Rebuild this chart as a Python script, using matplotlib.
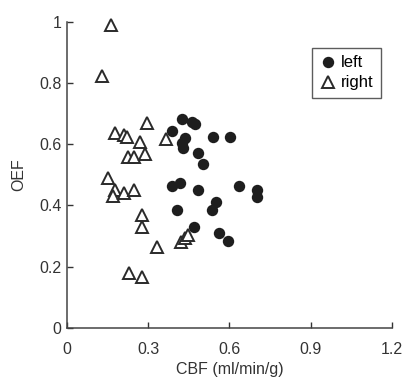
import matplotlib.pyplot as plt
from matplotlib.ticker import FormatStrFormatter

plt.rcParams['font.family'] = ['Liberation Sans', 'DejaVu Sans']

# left hemisphere (filled circles)
left_cbf = [0.425, 0.462, 0.473, 0.388, 0.436, 0.425, 0.428, 0.484, 0.502,
            0.539, 0.602, 0.388, 0.417, 0.484, 0.635, 0.702, 0.702, 0.406,
            0.550, 0.535, 0.469, 0.561, 0.595]
left_oef = [0.683, 0.673, 0.667, 0.644, 0.621, 0.605, 0.588, 0.572, 0.536,
            0.624, 0.624, 0.464, 0.474, 0.451, 0.464, 0.451, 0.428, 0.386,
            0.412, 0.386, 0.330, 0.310, 0.284]

# right hemisphere (open triangles)
right_cbf = [0.162, 0.129, 0.295, 0.177, 0.210, 0.222, 0.270, 0.225, 0.247,
             0.288, 0.366, 0.151, 0.177, 0.170, 0.210, 0.247, 0.277, 0.277,
             0.332, 0.229, 0.277, 0.421, 0.436, 0.447]
right_oef = [0.990, 0.824, 0.670, 0.637, 0.631, 0.624, 0.608, 0.559, 0.559,
             0.569, 0.618, 0.490, 0.451, 0.431, 0.441, 0.451, 0.369, 0.330,
             0.265, 0.180, 0.167, 0.281, 0.294, 0.304]

fig = plt.figure(figsize=(4.05, 3.79), dpi=100)
ax = fig.add_axes([0.165, 0.135, 0.803, 0.807])

ax.plot(left_cbf, left_oef, 'o', color='#1e1e1e', markersize=8.2,
        markeredgewidth=0, label='left', clip_on=False)
ax.plot(right_cbf, right_oef, '^', markerfacecolor='white',
        markeredgecolor='#2a2a2a', markeredgewidth=1.4, markersize=8,
        label='right', clip_on=False)

ax.set_xlim(0, 1.2)
ax.set_ylim(0, 1)
ax.set_xticks([0, 0.3, 0.6, 0.9, 1.2])
ax.set_yticks([0, 0.2, 0.4, 0.6, 0.8, 1])
ax.xaxis.set_major_formatter(FormatStrFormatter('%g'))
ax.yaxis.set_major_formatter(FormatStrFormatter('%g'))
ax.tick_params(direction='in', length=4, width=1, labelsize=11.5,
               colors='#333333', pad=4)
ax.tick_params(axis='x', pad=10)
for s in ['top', 'right']:
    ax.spines[s].set_visible(False)
for s in ['left', 'bottom']:
    ax.spines[s].set_color('#444444')
    ax.spines[s].set_linewidth(1.1)

ax.set_xlabel('CBF (ml/min/g)', fontsize=11.5, color='#333333', labelpad=4)
ax.set_ylabel('OEF', fontsize=11.5, color='#333333', labelpad=9)

leg = ax.legend(loc='upper right', bbox_to_anchor=(0.965, 0.915),
                fontsize=12, frameon=True, fancybox=False, edgecolor='#333333',
                handletextpad=0.25, handlelength=1.0, borderpad=0.45,
                labelspacing=0.3, borderaxespad=0)
leg.get_frame().set_linewidth(1.0)

fig.savefig('out.png', dpi=100)
